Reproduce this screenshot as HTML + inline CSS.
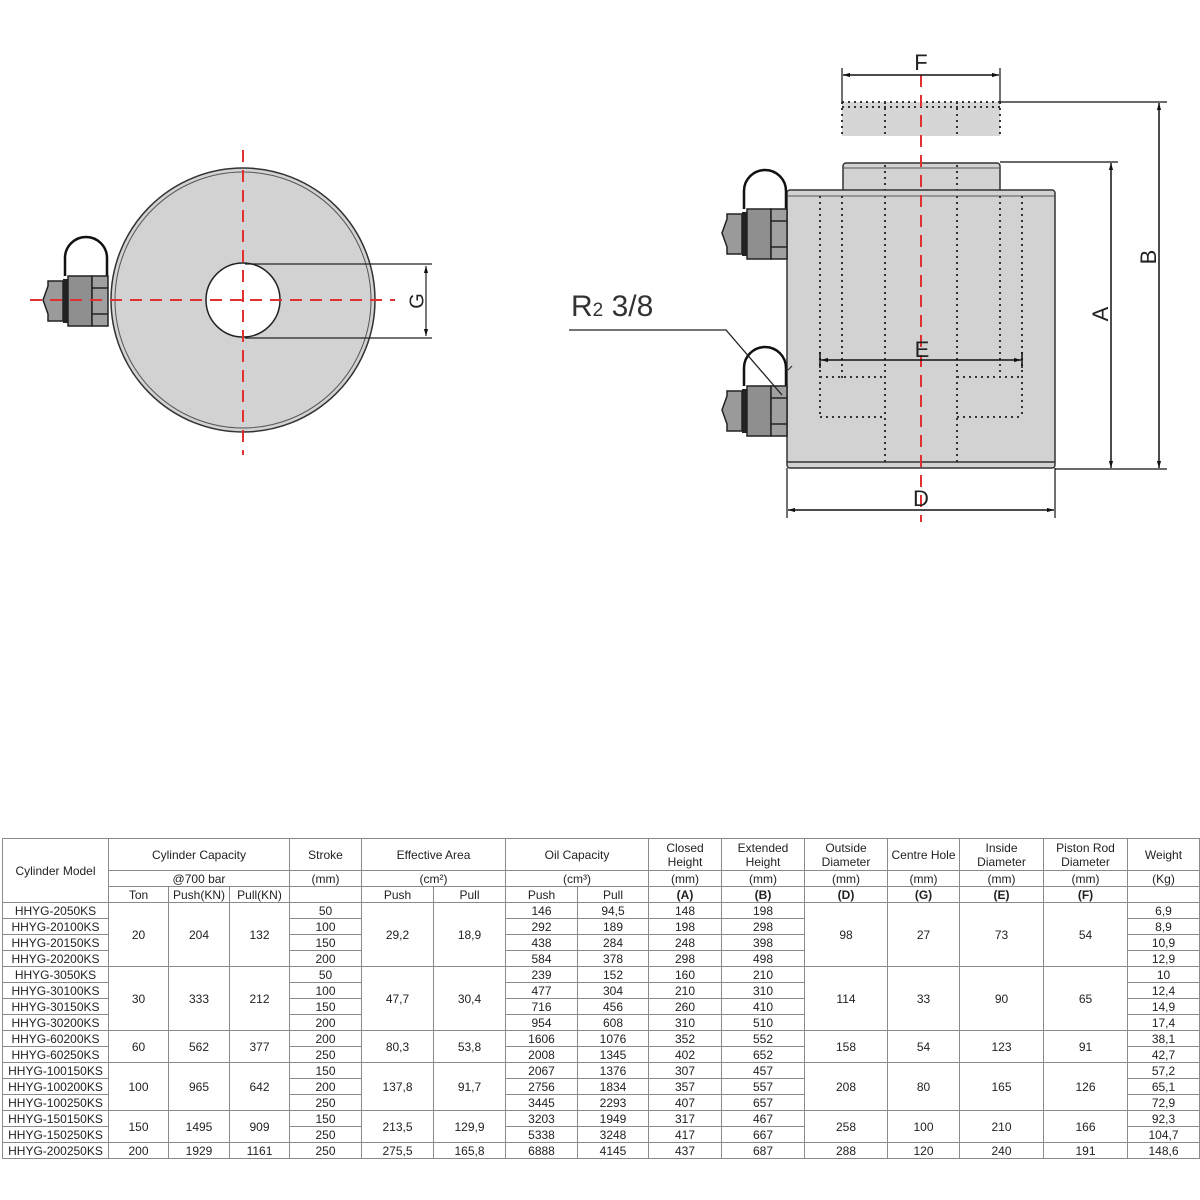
<!DOCTYPE html>
<html><head><meta charset="utf-8"><style>
html,body{margin:0;padding:0;background:#fff;width:1200px;height:1200px;overflow:hidden;position:relative;font-family:"Liberation Sans",Arial,sans-serif;}
svg{position:absolute;left:0;top:0}
table{position:absolute;left:2px;top:838px;border-collapse:collapse;table-layout:fixed;font-size:12px;color:#222;}
td{border:1px solid #8a8a8a;padding:0;text-align:center;line-height:14px;height:15px;white-space:nowrap;overflow:hidden}
tr.h1 td{height:31px}
tr.h2 td{height:15px}
tr.h3 td{height:15px}
.b{font-weight:bold}
</style></head><body>
<svg width="1200" height="830" viewBox="0 0 1200 830">
<defs>
<marker id="ar" viewBox="0 0 10 10" refX="10" refY="5" markerWidth="9" markerHeight="7" orient="auto-start-reverse" markerUnits="userSpaceOnUse"><path d="M0,2 L10,5 L0,8 z" fill="#111"/></marker>
<g id="fit">
 <path d="M65,276 L65,258 A21,21 0 0 1 107,258 L107,276" fill="none" stroke="#111" stroke-width="2.5"/>
 <path d="M43,300 L48,286 L48,281 L63,281 L63,321 L48,321 L48,314 z" fill="#9a9a9a" stroke="#222" stroke-width="1.5"/>
 <rect x="63" y="279" width="5" height="44" fill="#222"/>
 <rect x="68" y="276" width="24" height="50" fill="#8f8f8f" stroke="#222" stroke-width="1.5"/>
 <rect x="92" y="276" width="16" height="50" fill="#a0a0a0" stroke="#222" stroke-width="1.5"/>
 <line x1="92" y1="288" x2="108" y2="288" stroke="#222" stroke-width="1.5"/>
 <line x1="92" y1="314" x2="108" y2="314" stroke="#222" stroke-width="1.5"/>
</g>
</defs>
<!-- left view -->
<circle cx="243" cy="300" r="132" fill="#d2d2d2" stroke="#333" stroke-width="1.5"/>
<circle cx="243" cy="300" r="128" fill="none" stroke="#555" stroke-width="1"/>
<circle cx="243" cy="300" r="37" fill="#fff" stroke="#222" stroke-width="1.5"/>
<use href="#fit"/>
<line x1="30" y1="300" x2="395" y2="300" stroke="#e03030" stroke-width="2" stroke-dasharray="12,8"/>
<line x1="243" y1="150" x2="243" y2="455" stroke="#e03030" stroke-width="2" stroke-dasharray="12,8"/>
<line x1="245" y1="264" x2="432" y2="264" stroke="#222" stroke-width="1.2"/>
<line x1="245" y1="338" x2="432" y2="338" stroke="#222" stroke-width="1.2"/>
<line x1="426" y1="266" x2="426" y2="336" stroke="#222" stroke-width="1.2" marker-start="url(#ar)" marker-end="url(#ar)"/>
<text x="418" y="301" font-size="20" text-anchor="middle" transform="rotate(-90 418 301)" dominant-baseline="middle" fill="#222">G</text>

<!-- right view -->
<rect x="842" y="102" width="158" height="34" fill="#d6d6d6"/>
<g stroke="#333" stroke-width="2" stroke-dasharray="2,4" fill="none">
 <line x1="842" y1="102" x2="1000" y2="102"/><line x1="842" y1="107" x2="1000" y2="107"/>
 <line x1="842" y1="102" x2="842" y2="136"/><line x1="1000" y1="102" x2="1000" y2="136"/>
 <line x1="885" y1="102" x2="885" y2="136"/><line x1="957" y1="102" x2="957" y2="136"/>
</g>
<rect x="843" y="163" width="157" height="30" rx="3" fill="#d2d2d2" stroke="#333" stroke-width="1.5"/>
<line x1="843" y1="168" x2="1000" y2="168" stroke="#555"/>
<rect x="787" y="190" width="268" height="278" rx="3" fill="#d2d2d2" stroke="#333" stroke-width="1.5"/>
<line x1="787" y1="196" x2="1055" y2="196" stroke="#555"/>
<line x1="787" y1="462" x2="1055" y2="462" stroke="#333" stroke-width="1.5"/>
<g stroke="#333" stroke-width="2" stroke-dasharray="2,4" fill="none">
 <line x1="885" y1="165" x2="885" y2="190"/><line x1="957" y1="165" x2="957" y2="190"/>
 <line x1="820" y1="196" x2="820" y2="417"/><line x1="1022" y1="196" x2="1022" y2="417"/>
 <line x1="842" y1="196" x2="842" y2="378"/><line x1="1000" y1="196" x2="1000" y2="378"/>
 <line x1="885" y1="196" x2="885" y2="462"/><line x1="957" y1="196" x2="957" y2="462"/>
 <line x1="820" y1="377" x2="884" y2="377"/><line x1="957" y1="377" x2="1022" y2="377"/>
 <line x1="820" y1="417" x2="884" y2="417"/><line x1="957" y1="417" x2="1022" y2="417"/>
</g>
<use href="#fit" transform="translate(679,-67)"/>
<use href="#fit" transform="translate(679,110)"/>
<line x1="921" y1="75" x2="921" y2="522" stroke="#e03030" stroke-width="2" stroke-dasharray="12,8"/>
<!-- E -->
<line x1="820" y1="352" x2="820" y2="368" stroke="#111" stroke-width="1.5"/>
<line x1="1022" y1="352" x2="1022" y2="368" stroke="#111" stroke-width="1.5"/>
<line x1="821" y1="360" x2="1021" y2="360" stroke="#111" stroke-width="1.5" marker-start="url(#ar)" marker-end="url(#ar)"/>
<text x="922" y="357" font-size="22" text-anchor="middle" fill="#222">E</text>
<!-- F -->
<line x1="842" y1="68" x2="842" y2="102" stroke="#111" stroke-width="1.2"/>
<line x1="1000" y1="68" x2="1000" y2="102" stroke="#111" stroke-width="1.2"/>
<line x1="843" y1="75" x2="999" y2="75" stroke="#111" stroke-width="1.5" marker-start="url(#ar)" marker-end="url(#ar)"/>
<text x="921" y="70" font-size="22" text-anchor="middle" fill="#222">F</text>
<!-- D -->
<line x1="787" y1="468" x2="787" y2="518" stroke="#111" stroke-width="1.2"/>
<line x1="1055" y1="468" x2="1055" y2="518" stroke="#111" stroke-width="1.2"/>
<line x1="788" y1="510" x2="1054" y2="510" stroke="#111" stroke-width="1.5" marker-start="url(#ar)" marker-end="url(#ar)"/>
<text x="921" y="506" font-size="22" text-anchor="middle" fill="#222">D</text>
<!-- A B -->
<line x1="1000" y1="162" x2="1118" y2="162" stroke="#111" stroke-width="1.2"/>
<line x1="1000" y1="102" x2="1167" y2="102" stroke="#111" stroke-width="1.2"/>
<line x1="1055" y1="469" x2="1167" y2="469" stroke="#111" stroke-width="1.2"/>
<line x1="1111" y1="163" x2="1111" y2="468" stroke="#111" stroke-width="1.5" marker-start="url(#ar)" marker-end="url(#ar)"/>
<line x1="1159" y1="103" x2="1159" y2="468" stroke="#111" stroke-width="1.5" marker-start="url(#ar)" marker-end="url(#ar)"/>
<text x="1102" y="314" font-size="22" text-anchor="middle" dominant-baseline="middle" transform="rotate(-90 1102 314)" fill="#222">A</text>
<text x="1150" y="257" font-size="22" text-anchor="middle" dominant-baseline="middle" transform="rotate(-90 1150 257)" fill="#222">B</text>
<!-- R2 3/8 -->
<text x="571" y="316" font-size="30" fill="#333">R<tspan font-size="19">2</tspan> 3/8</text>
<polyline points="569,330 726,330 782,395" fill="none" stroke="#222" stroke-width="1.3"/>
<path d="M788,370 l4,-4" stroke="#333" stroke-width="1.2"/>
</svg>

<table>
<colgroup><col style="width:106px"><col style="width:60px"><col style="width:61px"><col style="width:60px"><col style="width:72px"><col style="width:72px"><col style="width:72px"><col style="width:72px"><col style="width:71px"><col style="width:73px"><col style="width:83px"><col style="width:83px"><col style="width:72px"><col style="width:84px"><col style="width:84px"><col style="width:72px"></colgroup>
<tr class="h1"><td rowspan="3">Cylinder Model</td><td colspan="3">Cylinder Capacity</td><td>Stroke</td><td colspan="2">Effective Area</td><td colspan="2">Oil Capacity</td><td>Closed<br>Height</td><td>Extended<br>Height</td><td>Outside<br>Diameter</td><td>Centre Hole</td><td>Inside<br>Diameter</td><td>Piston Rod<br>Diameter</td><td>Weight</td></tr>
<tr class="h2"><td colspan="3">@700 bar</td><td>(mm)</td><td colspan="2">(cm²)</td><td colspan="2">(cm³)</td><td>(mm)</td><td>(mm)</td><td>(mm)</td><td>(mm)</td><td>(mm)</td><td>(mm)</td><td>(Kg)</td></tr>
<tr class="h3"><td>Ton</td><td>Push(KN)</td><td>Pull(KN)</td><td></td><td>Push</td><td>Pull</td><td>Push</td><td>Pull</td><td class="b">(A)</td><td class="b">(B)</td><td class="b">(D)</td><td class="b">(G)</td><td class="b">(E)</td><td class="b">(F)</td><td></td></tr>
<tr><td>HHYG-2050KS</td><td rowspan="4">20</td><td rowspan="4">204</td><td rowspan="4">132</td><td>50</td><td rowspan="4">29,2</td><td rowspan="4">18,9</td><td>146</td><td>94,5</td><td>148</td><td>198</td><td rowspan="4">98</td><td rowspan="4">27</td><td rowspan="4">73</td><td rowspan="4">54</td><td>6,9</td></tr>
<tr><td>HHYG-20100KS</td><td>100</td><td>292</td><td>189</td><td>198</td><td>298</td><td>8,9</td></tr>
<tr><td>HHYG-20150KS</td><td>150</td><td>438</td><td>284</td><td>248</td><td>398</td><td>10,9</td></tr>
<tr><td>HHYG-20200KS</td><td>200</td><td>584</td><td>378</td><td>298</td><td>498</td><td>12,9</td></tr>
<tr><td>HHYG-3050KS</td><td rowspan="4">30</td><td rowspan="4">333</td><td rowspan="4">212</td><td>50</td><td rowspan="4">47,7</td><td rowspan="4">30,4</td><td>239</td><td>152</td><td>160</td><td>210</td><td rowspan="4">114</td><td rowspan="4">33</td><td rowspan="4">90</td><td rowspan="4">65</td><td>10</td></tr>
<tr><td>HHYG-30100KS</td><td>100</td><td>477</td><td>304</td><td>210</td><td>310</td><td>12,4</td></tr>
<tr><td>HHYG-30150KS</td><td>150</td><td>716</td><td>456</td><td>260</td><td>410</td><td>14,9</td></tr>
<tr><td>HHYG-30200KS</td><td>200</td><td>954</td><td>608</td><td>310</td><td>510</td><td>17,4</td></tr>
<tr><td>HHYG-60200KS</td><td rowspan="2">60</td><td rowspan="2">562</td><td rowspan="2">377</td><td>200</td><td rowspan="2">80,3</td><td rowspan="2">53,8</td><td>1606</td><td>1076</td><td>352</td><td>552</td><td rowspan="2">158</td><td rowspan="2">54</td><td rowspan="2">123</td><td rowspan="2">91</td><td>38,1</td></tr>
<tr><td>HHYG-60250KS</td><td>250</td><td>2008</td><td>1345</td><td>402</td><td>652</td><td>42,7</td></tr>
<tr><td>HHYG-100150KS</td><td rowspan="3">100</td><td rowspan="3">965</td><td rowspan="3">642</td><td>150</td><td rowspan="3">137,8</td><td rowspan="3">91,7</td><td>2067</td><td>1376</td><td>307</td><td>457</td><td rowspan="3">208</td><td rowspan="3">80</td><td rowspan="3">165</td><td rowspan="3">126</td><td>57,2</td></tr>
<tr><td>HHYG-100200KS</td><td>200</td><td>2756</td><td>1834</td><td>357</td><td>557</td><td>65,1</td></tr>
<tr><td>HHYG-100250KS</td><td>250</td><td>3445</td><td>2293</td><td>407</td><td>657</td><td>72,9</td></tr>
<tr><td>HHYG-150150KS</td><td rowspan="2">150</td><td rowspan="2">1495</td><td rowspan="2">909</td><td>150</td><td rowspan="2">213,5</td><td rowspan="2">129,9</td><td>3203</td><td>1949</td><td>317</td><td>467</td><td rowspan="2">258</td><td rowspan="2">100</td><td rowspan="2">210</td><td rowspan="2">166</td><td>92,3</td></tr>
<tr><td>HHYG-150250KS</td><td>250</td><td>5338</td><td>3248</td><td>417</td><td>667</td><td>104,7</td></tr>
<tr><td>HHYG-200250KS</td><td>200</td><td>1929</td><td>1161</td><td>250</td><td>275,5</td><td>165,8</td><td>6888</td><td>4145</td><td>437</td><td>687</td><td>288</td><td>120</td><td>240</td><td>191</td><td>148,6</td></tr>
</table>
</body></html>
